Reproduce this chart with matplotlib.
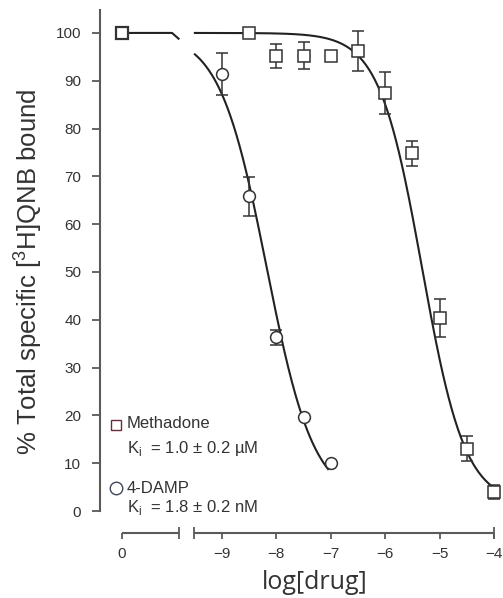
import numpy as np
import matplotlib
matplotlib.use("Agg")
import matplotlib.pyplot as plt

plt.rcParams['font.family'] = ['Liberation Sans', 'DejaVu Sans']
plt.rcParams['mathtext.fontset'] = 'custom'
plt.rcParams['mathtext.rm'] = 'Liberation Sans'

# data (log molar concentration, % bound)
ctrl_x = -10.84          # position of the "0" (no drug) point on the broken axis
ctrl_y = 100

meth_x = [-8.5, -8, -7.5, -7, -6.5, -6, -5.5, -5, -4.5, -4]
meth_y = [100, 95.2, 95.2, 95.2, 96.3, 87.4, 74.8, 40.3, 13.0, 4.0]
meth_err = [0, 2.5, 2.8, 0, 4.2, 4.4, 2.7, 4.0, 2.6, 1.5]

damp_x = [-9, -8.5, -8, -7.5, -7]
damp_y = [91.4, 65.8, 36.3, 19.7, 10.0]
damp_err = [4.4, 4.0, 1.5, 0, 0]

# fitted one-site curves: top, bottom, logIC50, slope
meth_fit = (100, 1.5, -5.32, 1.1)
damp_fit = (100, 2.0, -8.18, 1.0)

xtick_pos = [ctrl_x, -9, -8, -7, -6, -5, -4]
xtick_lab = ['0', '\u22129', '\u22128', '\u22127', '\u22126', '\u22125', '\u22124']

ink = '#222222'
axc = '#5a5a5a'
txt = '#333333'


def hill(x, top, bottom, c, s):
    return bottom + (top - bottom) / (1 + 10 ** (s * (x - c)))


fig = plt.figure(figsize=(5.03, 5.98), dpi=100)
ax = fig.add_axes([0.1988, 0.1087, 0.795, 0.8746])
ax.set_xlim(-11.245, -3.89)
ax.set_ylim(-4.6, 104.8)

# curves
xs = np.linspace(-9.5, -4, 300)
ax.plot(xs, hill(xs, *meth_fit), color=ink, lw=1.5, zorder=2)
xs2 = np.linspace(-9.5, -7.05, 300)
ax.plot(xs2, hill(xs2, *damp_fit), color=ink, lw=1.5, zorder=2)
ax.plot([ctrl_x, -9.92, -9.8], [100, 100, 98.8], color=ink, lw=1.5, zorder=2)

# points
ax.errorbar(meth_x, meth_y, yerr=meth_err, fmt='s', ms=8, mfc='white', mec='#333333',
            mew=1.1, ecolor='#333333', elinewidth=1.1, capsize=4.5, capthick=1.1, zorder=3)
ax.errorbar(damp_x, damp_y, yerr=damp_err, fmt='o', ms=8.5, mfc='white', mec='#333333',
            mew=1.1, ecolor='#333333', elinewidth=1.1, capsize=4.5, capthick=1.1, zorder=3)
ax.plot([ctrl_x], [ctrl_y], 's', ms=8, mfc='white', mec='#333333', mew=1.6, zorder=3)

# axes styling
for s in ['top', 'right', 'bottom']:
    ax.spines[s].set_visible(False)
ax.spines['left'].set_color(axc)
ax.spines['left'].set_linewidth(1.5)
ax.spines['left'].set_bounds(0, 104.8)

ax.set_yticks(range(0, 101, 10))
ax.tick_params(axis='y', direction='out', length=5.5, width=1.3, color=axc,
               labelsize=11, labelcolor=txt, pad=8)
ax.set_xticks(xtick_pos)
ax.set_xticklabels(xtick_lab)
ax.tick_params(axis='x', direction='out', length=4, width=1.3, color=axc,
               labelsize=11, labelcolor=txt, pad=6)

# broken x axis
tr = ax.get_xaxis_transform()
for a, b in [(ctrl_x, -9.79), (-9.52, -4)]:
    ax.plot([a, b], [0, 0], color=axc, lw=1.5, transform=tr, clip_on=False,
            solid_capstyle='butt')
for e in [-9.79, -9.52, -4]:
    ax.plot([e], [0], marker='|', ms=8, mew=1.3, color=axc, transform=tr, clip_on=False)

# legend
ax.plot([-10.95], [17.9], 's', ms=7.5, mfc='white', mec='#6d2b3d', mew=1.0, clip_on=False)
ax.text(-10.75, 18.4, 'Methadone', fontsize=12, color=txt, va='center')
ax.text(-10.75, 13.0, 'K$_\\mathregular{i}$  = 1.0 \u00b1 0.2 \u00b5M',
        fontsize=12, color=txt, va='center')
ax.plot([-10.95], [4.8], 'o', ms=9, mfc='white', mec='#3c4858', mew=1.0, clip_on=False)
ax.text(-10.75, 4.8, '4-DAMP', fontsize=12, color=txt, va='center')
ax.text(-10.75, 0.8, 'K$_\\mathregular{i}$  = 1.8 \u00b1 0.2 nM',
        fontsize=12, color=txt, va='center')

ax.set_ylabel('% Total specific [$^\\mathregular{3}$H]QNB bound', fontsize=18.5,
              color=txt)
ax.yaxis.set_label_coords(-0.14, 0.5)
ax.set_xlabel('log[drug]', fontsize=18, family=['Open Sans', 'DejaVu Sans'],
              color=txt)
ax.xaxis.set_label_coords(0.5375, -0.07)

fig.savefig('out.png', dpi=100)
